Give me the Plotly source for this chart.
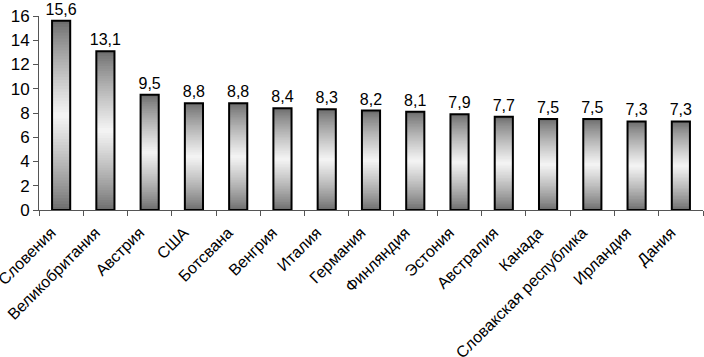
import numpy as np
import plotly.graph_objects as go

categories = ["Словения", "Великобритания", "Австрия", "США", "Ботсвана", "Венгрия",
              "Италия", "Германия", "Финляндия", "Эстония", "Австралия", "Канада",
              "Словакская республика", "Ирландия", "Дания"]
values = [15.6, 13.1, 9.5, 8.8, 8.8, 8.4, 8.3, 8.2, 8.1, 7.9, 7.7, 7.5, 7.5, 7.3, 7.3]
y_ticks = [0, 2, 4, 6, 8, 10, 12, 14, 16]

vals = np.array(values)
N = 64
dark = np.array([105, 105, 105])
light = np.array([245, 245, 245])
BAR_W = 0.41

fig = go.Figure()
for i in range(N):
    t = (i + 0.5) / N
    k = 1 - abs(2 * t - 1)
    k = k ** 0.8
    c = dark + (light - dark) * k
    col = "rgb(%d,%d,%d)" % tuple(c.astype(int))
    fig.add_trace(go.Bar(
        x=categories, y=vals / N * 1.5 if i < N - 1 else vals / N, base=vals * i / N,
        width=BAR_W, marker=dict(color=col, line=dict(width=0)),
        hoverinfo="skip", showlegend=False,
    ))

fig.add_trace(go.Bar(
    x=categories, y=values, width=BAR_W,
    marker=dict(color="rgba(0,0,0,0)", line=dict(color="black", width=2)),
    text=values, texttemplate="%{y:.1f}", textposition="outside",
    constraintext="none",
    textfont=dict(family="Liberation Sans, Arial", size=16, color="black"),
    cliponaxis=False, showlegend=False,
))

fig.update_layout(
    barmode="overlay",
    width=704, height=357,
    margin=dict(l=39, r=1, t=16, b=147, autoexpand=False),
    paper_bgcolor="white", plot_bgcolor="white",
    separators=", ",
    font=dict(family="Liberation Sans, Arial", size=16, color="black"),
    showlegend=False,
)
fig.update_xaxes(
    type="category", tickangle=-45, showline=True, linecolor="#555555", linewidth=1,
    ticks="outside", tickson="boundaries", ticklen=5, tickcolor="#555555",
    tickfont=dict(size=16), showgrid=False, zeroline=False, automargin=False,
    ticklabelshift=-10, ticklabelstandoff=6,
)
fig.update_yaxes(
    range=[0, 16], tickvals=y_ticks, showline=True, linecolor="#555555", linewidth=1,
    ticks="outside", ticklen=5, tickcolor="#555555", tickfont=dict(size=17),
    showgrid=False, zeroline=False, automargin=False,
)

fig.write_html(
    "out.html",
    config={"displayModeBar": False},
    post_script="document.body.style.margin='0';document.body.style.overflow='hidden';",
)
